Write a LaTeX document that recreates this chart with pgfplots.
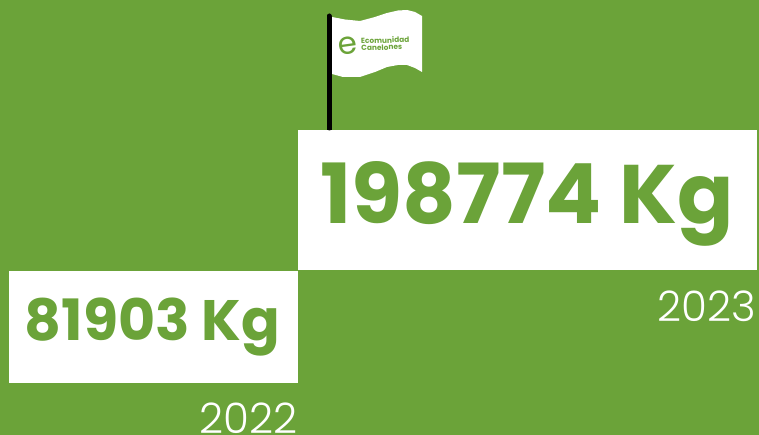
\documentclass[border=0pt]{standalone}
\usepackage{pgfplots}
\pgfplotsset{compat=1.18}
\usepackage{fontspec}
\setmainfont{Poppins}
\newfontfamily\light{Poppins Light}
\definecolor{bg}{HTML}{6BA339}
\begin{document}
\begin{tikzpicture}
\begin{axis}[
  width=759pt,height=435pt,scale only axis,
  xmin=0,xmax=759,ymin=0,ymax=435,y dir=reverse,
  axis line style={draw=none},ticks=none,
  axis background/.style={fill=bg},clip=true]
% value boxes (pixel coordinates of the picture)
\addplot[fill=white,draw=none] coordinates {(9,271)(298,271)(298,383)(9,383)} -- cycle;
\addplot[fill=white,draw=none] coordinates {(298,130)(757,130)(757,270)(298,270)} -- cycle;
% flag pole
\addplot[black,line width=5pt,line cap=round] coordinates {(329,16)(329,128)};
\addplot[black,line width=5pt] coordinates {(329,40)(329,130)};
% flag
\addplot[fill=white,draw=none] coordinates {(332,17)(345,19.5)(360,21)(375,17)(387,13)(398,10.5)(407,10)(415,12)(422,16)(422,72)(415,68)(407,65)(398,65)(387,67)(375,72)(360,77)(343,77)(332,74)} -- cycle;
\node[anchor=base,text=bg,font=\fontsize{31}{31}\selectfont,rotate=8] at (axis cs:349.5,54) {e};
\node[anchor=west,text=bg,rotate=2,align=left,font=\fontsize{7.4}{7}\selectfont\bfseries,inner sep=0pt] at (axis cs:361,44.5) {Ecomunidad\\Canelones};
% labels
\node[anchor=base,text=bg,font=\fontsize{57}{57}\bfseries,inner sep=0pt] at (axis cs:152.5,340) {81903 Kg};
\node[anchor=base,text=bg,font=\fontsize{83}{83}\bfseries,inner sep=0pt] at (axis cs:527,224) {198774 Kg};
\node[anchor=base east,text=white,font=\fontsize{42}{42}\light,inner sep=0pt] at (axis cs:298,433) {2022};
\node[anchor=base east,text=white,font=\fontsize{42}{42}\light,inner sep=0pt] at (axis cs:756,321) {2023};
\end{axis}
\end{tikzpicture}
\end{document}
